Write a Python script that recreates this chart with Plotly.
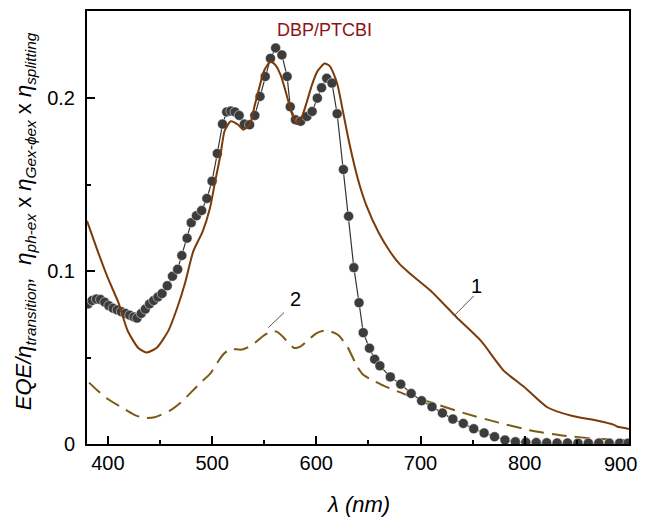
import plotly.graph_objects as go

# Curve 1 (solid brown)
c1_x = [380, 390, 400, 410, 419, 429, 437, 447, 458, 467, 474, 482, 491, 498, 503, 508, 512, 518, 525, 530,
        536, 541, 544, 550, 556, 561, 566, 571, 576, 581, 586, 591, 596, 601, 608, 613, 620, 626, 632, 640,
        648, 660, 671, 680, 690, 710, 735, 758, 780, 800, 822, 845, 870, 885, 889, 895, 900]
c1_y = [0.129, 0.112, 0.096, 0.082, 0.0655, 0.0557, 0.0529, 0.0557, 0.0654, 0.0795, 0.093, 0.1115, 0.123, 0.1365, 0.152, 0.167, 0.181, 0.1866, 0.1846, 0.1818,
        0.1846, 0.196, 0.203, 0.216, 0.2212, 0.219, 0.213, 0.203, 0.192, 0.1850, 0.189, 0.198, 0.208, 0.2155, 0.2200, 0.2185, 0.2085, 0.191, 0.173, 0.153,
        0.138, 0.122, 0.111, 0.104, 0.0985, 0.0885, 0.073, 0.0596, 0.0423, 0.0327, 0.0211, 0.0163, 0.0134, 0.0112, 0.0100, 0.0094, 0.0087]

# Curve 2 (dashed)
c2_x = [382, 390, 400, 415, 425, 435, 445, 460, 470, 480, 490, 498, 505, 511, 518, 527, 533, 540, 548, 555,
        562, 568, 574, 579, 585, 592, 600, 607, 614, 621, 630, 639, 645, 652, 665, 684, 710, 741, 774, 806,
        838, 870, 900]
c2_y = [0.0355, 0.031, 0.026, 0.0205, 0.017, 0.015, 0.0155, 0.0195, 0.024, 0.030, 0.036, 0.0405, 0.047, 0.052, 0.055, 0.0545, 0.0555, 0.058, 0.062, 0.0645,
        0.065, 0.062, 0.058, 0.0555, 0.0565, 0.060, 0.064, 0.0655, 0.065, 0.063, 0.056, 0.045, 0.040, 0.0375, 0.0336, 0.029, 0.024, 0.018, 0.0125, 0.0078,
        0.0048, 0.003, 0.002]

# Measured points (dots)
pts_x = [381, 385, 389, 393, 397, 401, 405, 409, 413, 417, 421, 425, 428, 432, 436, 440, 444, 448, 452, 457,
         462, 467, 471, 476, 480, 485, 490, 495, 500, 505, 510, 514, 518, 522, 526, 531, 536, 541, 546, 551,
         556, 561, 567, 572, 575, 580, 585, 591, 596, 601, 605, 610, 615, 620, 626, 631, 636, 641, 645, 651,
         656, 661, 671, 681, 691, 701, 711, 721, 731, 741, 751, 761, 771, 781, 791, 801, 811, 821, 831, 841,
         851, 861, 871, 881, 891, 899]
pts_y = [0.081, 0.083, 0.0838, 0.0835, 0.082, 0.080, 0.0785, 0.0775, 0.0765, 0.0755, 0.0745, 0.0735, 0.0728, 0.0755, 0.078, 0.081, 0.083, 0.085, 0.087, 0.0915,
         0.097, 0.101, 0.109, 0.119, 0.128, 0.132, 0.135, 0.142, 0.152, 0.168, 0.185, 0.192, 0.1925, 0.192, 0.190, 0.185, 0.1846, 0.190, 0.201, 0.2125,
         0.223, 0.229, 0.225, 0.2125, 0.195, 0.1875, 0.1866, 0.1894, 0.1923, 0.200, 0.206, 0.2115, 0.2087, 0.191, 0.1587, 0.1317, 0.102, 0.0817, 0.0644, 0.0554,
         0.049, 0.0452, 0.0388, 0.0346, 0.0292, 0.025, 0.0215, 0.0179, 0.0144, 0.0119, 0.0088, 0.0064, 0.0042, 0.0023, 0.0013, 0.001, 0.0008, 0.0007, 0.0006, 0.0006,
         0.0005, 0.0005, 0.0005, 0.0005, 0.0005, 0.0005]

x_ticks = [400, 500, 600, 700, 800, 900]
x_tick_text = ["400", "500", "600", "700", "800", ""]   # last label drawn as an annotation so it stays inside the page
y_ticks = [0, 0.1, 0.2]
y_tick_text = ["0", "0.1", "0.2"]

FONT = "Arial, Liberation Sans, sans-serif"
BROWN = "#7a3a0a"
OLIVE = "#7a5a14"
DOT = "#3c3c3c"

fig = go.Figure()
fig.add_trace(go.Scatter(x=c2_x, y=c2_y, mode="lines",
                         line=dict(color=OLIVE, width=2, dash="15px,8px", shape="spline", smoothing=0.6)))
fig.add_trace(go.Scatter(x=pts_x, y=pts_y, mode="lines+markers",
                         line=dict(color="#333333", width=1.2),
                         marker=dict(color=DOT, size=10, line=dict(color="white", width=0.5))))
fig.add_trace(go.Scatter(x=c1_x, y=c1_y, mode="lines",
                         line=dict(color=BROWN, width=2, shape="spline", smoothing=0.6)))

axis_common = dict(showline=True, linecolor="black", linewidth=2, mirror=True,
                   ticks="inside", ticklen=8, tickwidth=1.5, tickcolor="black",
                   showgrid=False, zeroline=False,
                   tickfont=dict(family=FONT, size=20, color="black"))

fig.update_xaxes(range=[380, 900], tickvals=x_ticks, ticktext=x_tick_text,
                 minor=dict(ticks="inside", ticklen=4, tickwidth=1.5, tickcolor="black", dtick=50, tick0=400, showgrid=False),
                 **axis_common)
fig.update_yaxes(range=[0, 0.2504], tickvals=y_ticks, ticktext=y_tick_text,
                 minor=dict(ticks="inside", ticklen=4, tickwidth=1.5, tickcolor="black", dtick=0.05, tick0=0, showgrid=False),
                 ticklabelstandoff=6,
                 **axis_common)

annotations = [
    dict(text="DBP/PTCBI", x=608, y=0.2396, xref="x", yref="y", showarrow=False,
         font=dict(family=FONT, size=18, color="#8b1414")),
    dict(text="1", x=754, y=0.0914, xref="x", yref="y", showarrow=False,
         font=dict(family=FONT, size=20, color="black")),
    dict(text="2", x=580, y=0.0837, xref="x", yref="y", showarrow=False,
         font=dict(family=FONT, size=20, color="black")),
    dict(text="900", x=x_ticks[-1], y=0, xref="x", yref="paper", showarrow=False,
         xanchor="right", yanchor="middle", xshift=10, yshift=-20,
         font=dict(family=FONT, size=20, color="black")),
    dict(text="<i>λ (nm)</i>", x=0.5, y=-0.14, xref="paper", yref="paper", showarrow=False,
         yanchor="middle", font=dict(family=FONT, size=22, color="black")),
    dict(text="<i>EQE/η<sub>transition</sub>,  η<sub>ph-ex</sub></i> x <i>η<sub>Gex-ϕex</sub></i> x <i>η<sub>splitting</sub></i>",
         x=-0.114, y=0.515, xref="paper", yref="paper", showarrow=False, textangle=-90,
         xanchor="center", yanchor="middle", font=dict(family=FONT, size=22, color="black")),
]

shapes = [
    dict(type="line", xref="x", yref="y", x0=751, y0=0.0856, x1=732, y1=0.0740,
         line=dict(color="#555555", width=1)),
    dict(type="line", xref="x", yref="y", x0=569, y0=0.076, x1=554, y1=0.0673,
         line=dict(color="#555555", width=1)),
]

fig.update_layout(width=640, height=526, margin=dict(l=87, r=10, t=9, b=82),
                  paper_bgcolor="white", plot_bgcolor="white", showlegend=False,
                  annotations=annotations, shapes=shapes)

# remove the default page margin so the figure sits at the window's top-left corner
fig.write_html("out.html", config={"displayModeBar": False},
               post_script="document.body.style.margin='0';document.body.style.overflow='hidden';")
